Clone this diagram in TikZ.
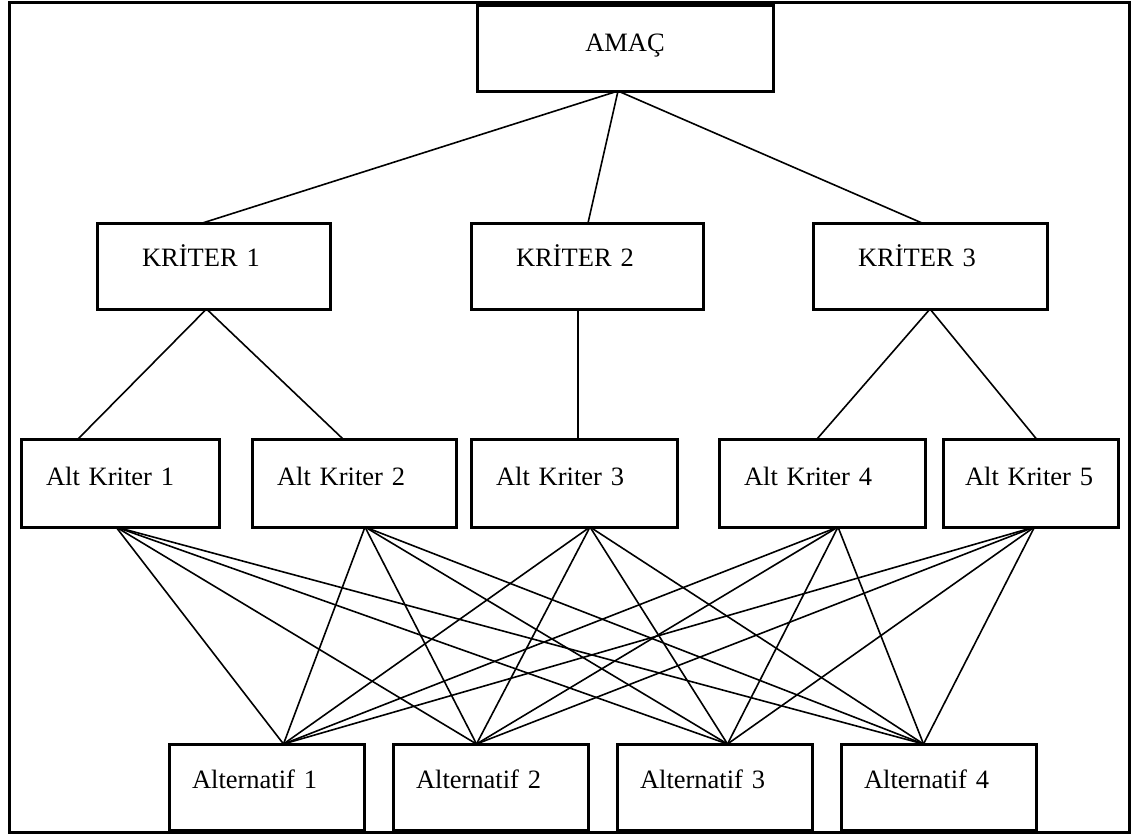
\documentclass[tikz,border=0pt]{standalone}
\usepackage{fontspec}
\setmainfont{Liberation Serif}
\usetikzlibrary{positioning}

\begin{document}
\begin{tikzpicture}[
      x=1pt, y=-1pt,
      font=\fontsize{26.5}{30}\selectfont,
      box/.style = {draw, rectangle, line width=3pt, outer sep=0pt, align=left, minimum height=86pt},
      goal/.style = {box, align=center, minimum width=296pt, text height=20pt, text depth=14pt},
      crit/.style = {box, inner xsep=45pt, text width=#1, text height=18pt, text depth=18pt},
      subcrit/.style = {box, inner xsep=25pt, text width=#1, minimum height=88pt, text height=18pt, text depth=14pt},
      alt-elm/.style = {box, inner xsep=23pt, text width=149pt, text height=18pt, text depth=16pt},
      link/.style = {line width=1.6pt},
      node distance = 29pt
    ]
      \useasboundingbox (0,0) rectangle (1133,836);
      \draw[line width=3pt] (9,2) rectangle (1129,832);

      \node[goal] (amac) at (625,48) {AMAÇ};

      \node[crit=143pt] (k1) at (213.5,266) {KRİTER 1};
      \node[crit=142pt, right=141pt of k1] (k2) {KRİTER 2};
      \node[crit=144pt, right=110pt of k2] (k3) {KRİTER 3};

      \node[subcrit=148pt] (s1) at (120,483) {Alt Kriter 1};
      \node[subcrit=154pt, right=33pt of s1] (s2) {Alt Kriter 2};
      \node[subcrit=156pt, right=15pt of s2] (s3) {Alt Kriter 3};
      \node[subcrit=156pt, right=42pt of s3] (s4) {Alt Kriter 4};
      \node[subcrit=131pt, inner xsep=22pt, right=18pt of s4] (s5) {Alt Kriter 5};

      \node[alt-elm] (alt1) at (266.5,787) {Alternatif 1};
      \node[alt-elm, right=of alt1] (alt2) {Alternatif 2};
      \node[alt-elm, right=of alt2] (alt3) {Alternatif 3};
      \node[alt-elm, right=of alt3] (alt4) {Alternatif 4};

      \foreach \k/\dx in {k1/-11, k2/1, k3/-8}
        \draw[link] ([xshift=-7pt]amac.south) -- ([xshift=\dx pt]\k.north);

      \draw[link] ([xshift=-7pt]k1.south) -- ([xshift=-42pt]s1.north);
      \draw[link] ([xshift=-7pt]k1.south) -- ([xshift=-11pt]s2.north);
      \draw[link] ([xshift=-9pt]k2.south) -- ([xshift=4pt]s3.north);
      \draw[link] (k3.south) -- ([xshift=-5pt]s4.north);
      \draw[link] (k3.south) -- ([xshift=6pt]s5.north);

      \foreach \s/\ds in {s1/-4, s2/11, s3/16, s4/16, s5/4}
        \foreach \a/\da in {alt1/17, alt2/-14, alt3/13, alt4/-15}
          \draw[link] ([xshift=\ds pt]\s.south) -- ([xshift=\da pt]\a.north);
\end{tikzpicture}
\end{document}
